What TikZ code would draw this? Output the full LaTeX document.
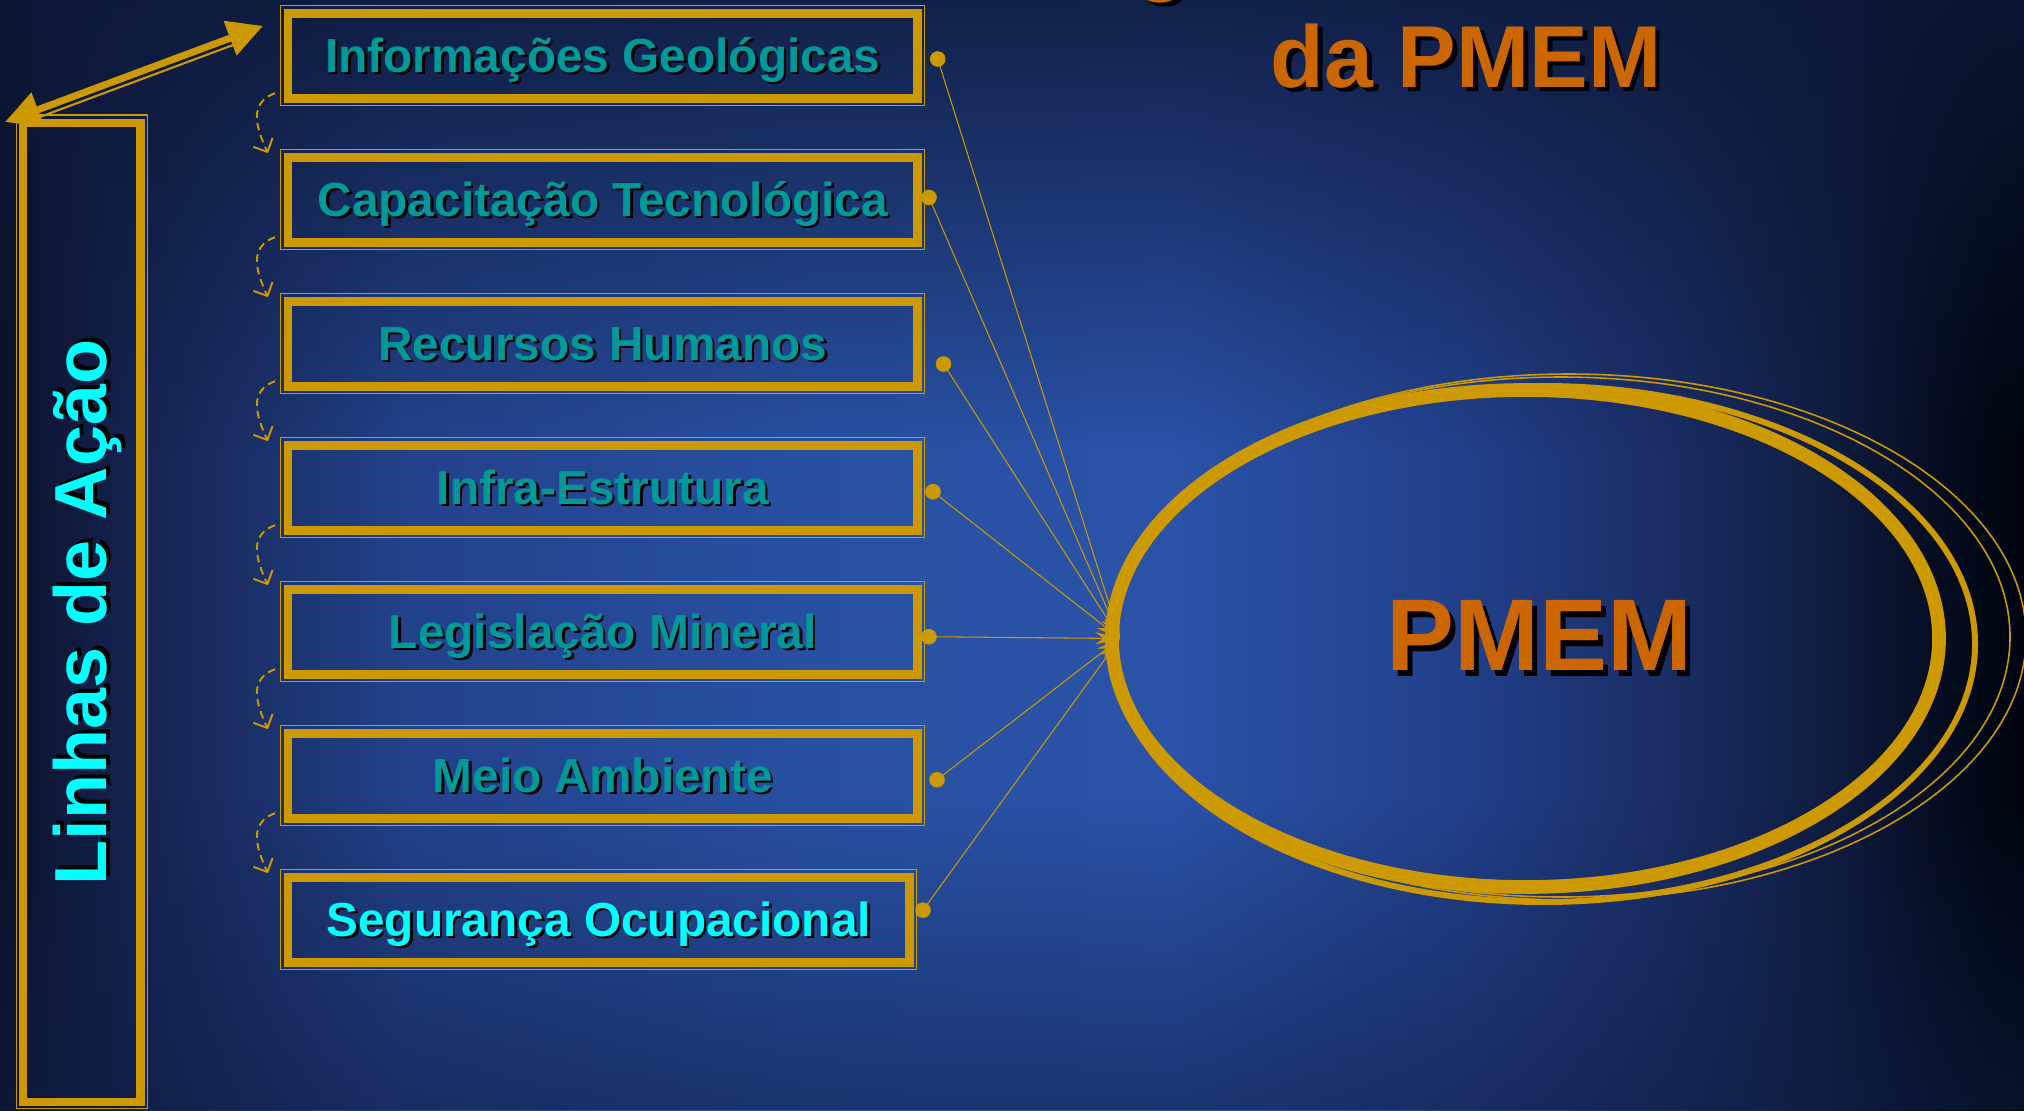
\documentclass[tikz,border=0pt]{standalone}
\usepackage{fontspec}
\setmainfont{Liberation Sans}
\usetikzlibrary{arrows.meta,shapes.geometric,fadings}
\definecolor{gold}{HTML}{CC9900}
\definecolor{tealtext}{HTML}{009999}
\definecolor{cyantext}{HTML}{00FFFF}
\definecolor{orangetext}{HTML}{CC6600}
\definecolor{bgtop}{HTML}{0D1838}
\definecolor{bgbottom}{HTML}{0F1D44}
\definecolor{bgA}{HTML}{0A1128}
\definecolor{bgB}{HTML}{121F48}
\definecolor{bgC}{HTML}{22428A}
\definecolor{bgD}{HTML}{2850A2}
\definecolor{bgE}{HTML}{2A52A8}
\definecolor{bgF}{HTML}{22408A}
\definecolor{bgG}{HTML}{1A2E66}
\definecolor{bgH}{HTML}{101D42}
\definecolor{bgI}{HTML}{060D22}
\definecolor{bgJ}{HTML}{000712}
\definecolor{bgK}{HTML}{000510}
\pgfdeclarehorizontalshading{slidebg}{100bp}{color(0bp)=(bgA); color(25bp)=(bgA); color(27.5bp)=(bgB); color(35bp)=(bgC); color(45bp)=(bgD); color(54bp)=(bgE); color(61bp)=(bgF); color(66bp)=(bgG); color(70bp)=(bgH); color(72.75bp)=(bgI); color(74.25bp)=(bgJ); color(75bp)=(bgK); color(100bp)=(bgK)}
\tikzfading[name=fadetop, top color=transparent!0, bottom color=transparent!100]
\tikzfading[name=fadebottom, top color=transparent!100, bottom color=transparent!0]
\newcommand{\dropshadowtext}[2]{\leavevmode\rlap{\kern0.055em\raisebox{-0.055em}{\color{black}#2}}{\color{#1}#2}}
\tikzset{
  linebox/.style={draw=gold, line width=2.5pt, minimum width=6.295cm, minimum height=0.85cm, inner sep=0pt, outer sep=0pt, text height=9.4pt, text depth=0pt, font=\fontsize{13.6}{16}\selectfont\bfseries},
  sidebox/.style={draw=gold, line width=2.5pt, minimum width=1.173cm, minimum height=9.79cm, inner sep=0pt, outer sep=0pt, font=\fontsize{21}{24}\selectfont\bfseries},
  thinframe/.style={draw=gold, line width=0.4pt},
  bigarrow/.style={draw=gold, line width=2pt, {Triangle[length=10pt,width=10pt]}-{Triangle[length=10pt,width=10pt]}},
  loopback/.style={draw=gold, line width=0.55pt, dash pattern=on 2.2pt off 1.4pt, -{Straight Barb[length=3pt,width=6pt]}},
  feeder/.style={draw=gold, line width=0.3pt, -{Stealth[length=7pt,width=3.5pt]}},
  pmemring/.style={ellipse, draw=gold, line width=3.9pt, minimum width=8.27cm, minimum height=4.97cm, inner sep=0pt, outer sep=0pt, font=\fontsize{29}{34}\selectfont\bfseries},
  titletext/.style={inner sep=0pt, font=\fontsize{25}{30}\selectfont\bfseries}
}
\begin{document}
\begin{tikzpicture}
\useasboundingbox (0,0) rectangle (20.24,11.10);
\shade[shading=slidebg] (0,0) rectangle (20.24,11.10);
\fill[bgtop, fill opacity=0.85, path fading=fadetop] (0,6.6) rectangle (20.24,11.10);
\fill[bgbottom, fill opacity=0.55, path fading=fadebottom] (0,0) rectangle (20.24,3.1);
\node[titletext, anchor=base] (titlecut) at (11.61,11.26) {\dropshadowtext{orangetext}{g}};
\node[titletext, anchor=base] (title) at (14.66,10.23) {\dropshadowtext{orangetext}{da PMEM}};
\node[sidebox] (side) at (0.8165,4.975) {\hspace{0.155cm}\rotatebox{90}{\dropshadowtext{cyantext}{Linhas de Ação}}};
\draw[thinframe] ([shift={(-0.065,0.08)}]side.north west) rectangle ([shift={(0.07,-0.065)}]side.south east);
\node[linebox] (b1) at (6.0275,10.543) {\dropshadowtext{tealtext}{Informações Geológicas}};
\node[linebox] (b2) at (6.0275,9.103) {\dropshadowtext{tealtext}{Capacitação Tecnológica}};
\node[linebox] (b3) at (6.0275,7.663) {\dropshadowtext{tealtext}{Recursos Humanos}};
\node[linebox] (b4) at (6.0275,6.223) {\dropshadowtext{tealtext}{Infra-Estrutura}};
\node[linebox] (b5) at (6.0275,4.783) {\dropshadowtext{tealtext}{Legislação Mineral}};
\node[linebox] (b6) at (6.0275,3.343) {\dropshadowtext{tealtext}{Meio Ambiente}};
\node[linebox, minimum width=6.215cm] (b7) at (5.9875,1.903) {\dropshadowtext{cyantext}{Segurança Ocupacional}};
\draw[thinframe] ([shift={(-0.075,0.078)}]b1.north west) rectangle ([shift={(0.07,-0.075)}]b1.south east);
\draw[thinframe] ([shift={(-0.075,0.078)}]b2.north west) rectangle ([shift={(0.07,-0.075)}]b2.south east);
\draw[thinframe] ([shift={(-0.075,0.078)}]b3.north west) rectangle ([shift={(0.07,-0.075)}]b3.south east);
\draw[thinframe] ([shift={(-0.075,0.078)}]b4.north west) rectangle ([shift={(0.07,-0.075)}]b4.south east);
\draw[thinframe] ([shift={(-0.075,0.078)}]b5.north west) rectangle ([shift={(0.07,-0.075)}]b5.south east);
\draw[thinframe] ([shift={(-0.075,0.078)}]b6.north west) rectangle ([shift={(0.07,-0.075)}]b6.south east);
\draw[thinframe] ([shift={(-0.075,0.078)}]b7.north west) rectangle ([shift={(0.07,-0.075)}]b7.south east);
\coordinate (arrowtail) at ([shift={(-0.18,0.01)}]side.north west);
\coordinate (arrowtip) at ([shift={(-0.25,-0.127)}]b1.north west);
\draw[bigarrow] (arrowtail) -- (arrowtip);
\draw[gold, line width=0.6pt, shorten <=9pt, shorten >=9pt] ([shift={(0.026,-0.07)}]arrowtail) -- ([shift={(0.026,-0.07)}]arrowtip);
\draw[loopback] ([shift={(-0.13,0.05)}]b1.south west) to[out=200,in=115,looseness=1.2] ([shift={(-0.2,0.04)}]b2.north west);
\draw[loopback] ([shift={(-0.13,0.05)}]b2.south west) to[out=200,in=115,looseness=1.2] ([shift={(-0.2,0.04)}]b3.north west);
\draw[loopback] ([shift={(-0.13,0.05)}]b3.south west) to[out=200,in=115,looseness=1.2] ([shift={(-0.2,0.04)}]b4.north west);
\draw[loopback] ([shift={(-0.13,0.05)}]b4.south west) to[out=200,in=115,looseness=1.2] ([shift={(-0.2,0.04)}]b5.north west);
\draw[loopback] ([shift={(-0.13,0.05)}]b5.south west) to[out=200,in=115,looseness=1.2] ([shift={(-0.2,0.04)}]b6.north west);
\draw[loopback] ([shift={(-0.13,0.05)}]b6.south west) to[out=200,in=115,looseness=1.2] ([shift={(-0.2,0.04)}]b7.north west);
\node[pmemring] (ell) at (15.255,4.715) {\hspace{0.27cm}\dropshadowtext{orangetext}{PMEM}};
\draw[gold, line width=1.7pt] ([shift={(0.18,-0.055)}]ell.center) ellipse [x radius=4.315, y radius=2.58];
\draw[gold, line width=0.45pt] ([shift={(0.355,0.015)}]ell.center) ellipse [x radius=4.49, y radius=2.6];
\draw[gold, line width=0.45pt] ([shift={(0.435,0.015)}]ell.center) ellipse [x radius=4.57, y radius=2.63];
\coordinate (d1) at ([shift={(0.202,-0.033)}]b1.east);
\coordinate (d2) at ([shift={(0.115,0.022)}]b2.east);
\coordinate (d3) at ([shift={(0.26,-0.203)}]b3.east);
\coordinate (d4) at ([shift={(0.155,-0.04)}]b4.east);
\coordinate (d5) at ([shift={(0.115,-0.05)}]b5.east);
\coordinate (d6) at ([shift={(0.195,-0.04)}]b6.east);
\coordinate (d7) at ([shift={(0.135,0.096)}]b7.east);
\draw[feeder] (d1) -- ([xshift=0.08cm]ell.west);
\draw[feeder] (d2) -- ([xshift=0.08cm]ell.west);
\draw[feeder] (d3) -- ([xshift=0.08cm]ell.west);
\draw[feeder] (d4) -- ([xshift=0.08cm]ell.west);
\draw[feeder] (d5) -- ([xshift=0.08cm]ell.west);
\draw[feeder] (d6) -- ([xshift=0.08cm]ell.west);
\draw[feeder] (d7) -- ([xshift=0.08cm]ell.west);
\fill[gold] (d1) circle (0.078);
\fill[gold] (d2) circle (0.078);
\fill[gold] (d3) circle (0.078);
\fill[gold] (d4) circle (0.078);
\fill[gold] (d5) circle (0.078);
\fill[gold] (d6) circle (0.078);
\fill[gold] (d7) circle (0.078);
\end{tikzpicture}
\end{document}
